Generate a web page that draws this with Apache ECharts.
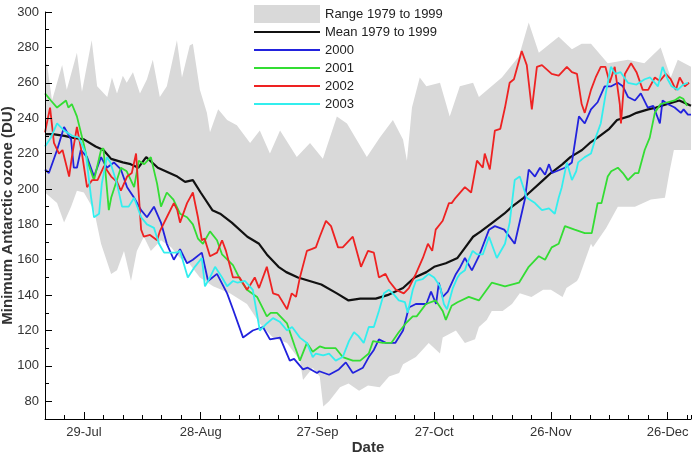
<!DOCTYPE html>
<html>
<head>
<meta charset="utf-8">
<script src="https://cdn.jsdelivr.net/npm/echarts@6/dist/echarts.min.js"></script>
<style>
  html, body { margin: 0; padding: 0; background: #fff; }
  #chart { width: 693px; height: 460px; }
</style>
</head>
<body>
<div id="chart"></div>
<script>
// x = days since 19-Jul, y = minimum ozone (DU)
const tickDays = [10, 40, 70, 100, 130, 160];
const tickLabels = ["29-Jul", "28-Aug", "27-Sep", "27-Oct", "26-Nov", "26-Dec"];
const yLabels = [80, 100, 120, 140, 160, 180, 200, 220, 240, 260, 280, 300];

const rangeMax = [[0,269],[0.5,271],[1.8,250],[4.4,270],[5.6,256],[8.2,277],[9.5,255],[12,284],[13.4,258],[16,252],[17.2,263],[18.5,254],[20,264],[21,260],[22.6,266],[24.4,254],[26.2,262],[27.7,273],[29.5,252],[31.3,258],[33.9,284],[35.2,263],[37.2,281],[38,282],[39.8,256],[41.6,243],[42.4,232],[44.5,245],[46.8,239],[49.3,236],[52.7,226],[55.2,233],[57.8,220],[60.4,233],[64.7,218],[68.1,226],[71.4,217],[75,241],[77.6,237],[82.7,218],[86,229],[89.4,239],[92,228],[93,216],[94.3,246],[96.3,263],[98,258],[101.5,260],[104,241],[106.6,258],[110,260],[111.5,252],[117.4,263],[121.8,275],[124.3,294],[126.9,277],[132,286],[135.4,279],[137.9,282],[140.3,282],[144.6,271],[149.8,273],[154,271],[158.2,280],[160.8,263],[162.6,273],[166,269]];
const rangeMin = [[0,198],[3.1,192],[4.9,181],[6.7,190],[8.2,199],[10,198],[12.6,188],[14.4,169],[17,152],[18.5,154],[20.3,165],[22.1,148],[23.6,165],[25.4,173],[27.2,165],[29.8,171],[32.4,167],[34.7,161],[37,158],[39.8,150],[43.2,145],[47.5,141],[51.9,135],[55.2,124],[58.6,116],[62.2,113],[65.5,103],[66.3,92],[68.8,99],[70.6,94],[71.5,77],[73,80],[75.8,88],[78,90],[80.7,86],[83,89],[86,88],[88.4,94],[91,96],[92,101],[95.3,105],[98.6,113],[101.5,107],[102.2,116],[105.6,120],[107.9,113],[110.5,115],[111.5,122],[113.5,126],[114.8,131],[117.6,131],[120,135],[122,141],[125,139],[128,143],[130,143],[133,139],[134,144],[136.7,148],[137.2,150],[140.3,169],[140.8,167],[144.2,178],[147.2,190],[151.6,190],[155.7,194],[159.3,195],[160.5,210],[161.6,222],[166,222]];
const mean = [[0,231],[2,231],[5,230],[7,229],[10,228],[13,224],[15,222],[17,217],[20,215],[22,214],[24,212],[26,218],[29,212],[32,209],[34,207],[36,204],[38,205],[40,198],[43,188],[45,186],[48,181],[52,173],[55,169],[57,163],[60,156],[62,153],[65,150],[68,148],[71,146],[75,141],[78,137],[81,138],[85,138],[88,140],[92,144],[95,150],[98,153],[100,156],[103,158],[106,161],[108,167],[110,173],[112,176],[115,181],[118,186],[120,190],[123,195],[125,199],[128,205],[130,209],[133,214],[135,218],[138,222],[140,226],[142,229],[145,234],[147,239],[150,241],[152,243],[155,245],[157,246],[160,248],[163,250],[166,247]];
const y2000 = [[0,211],[1,209],[3.1,222],[4.9,235],[6.7,228],[7.4,212],[8.2,212],[9.2,222],[10.8,218],[12.6,207],[14.4,218],[15.9,212],[17.7,215],[19.5,211],[21.1,201],[22.9,195],[24.7,188],[26.2,184],[28,190],[29.8,181],[31.3,169],[33.1,160],[34.7,166],[36.5,158],[38,160],[40.3,164],[41.9,148],[44.2,152],[46.8,141],[48.3,132],[50.9,116],[53.4,120],[56,122],[57.8,115],[60.4,116],[62.9,103],[64,104],[66.3,98],[67.5,99],[69.9,96],[70.5,97],[73,95],[75.5,98],[77.3,102],[79.1,96],[81.7,99],[83.2,105],[84.5,109],[85.8,115],[87.6,113],[90,113],[92,120],[93.5,133],[95.3,135],[98,135],[99.2,142],[100.5,135],[101.2,147],[102.2,139],[103.5,142],[105.6,152],[106.5,155],[107.9,161],[109.7,154],[111.5,162],[114.1,177],[115.6,179],[118,177],[120.7,169],[123.3,194],[124.3,211],[125.9,207],[127.2,212],[128.5,208],[129.5,214],[130.3,209],[133.6,212],[135.4,215],[137.2,241],[138.7,237],[140.3,245],[142,249],[143.8,258],[145.5,258],[147.2,260],[148.5,258],[149.8,252],[151.6,250],[153.1,254],[154.9,246],[156.3,247],[158,237],[158.7,250],[160,248],[161.8,246],[163.4,243],[164.1,245],[165.2,242],[166,242]];
const y2001 = [[0,254],[1.5,250],[3.1,246],[5.4,250],[6,246],[6.9,248],[8.2,241],[10,225],[11,215],[12.6,205],[14.4,222],[15,223],[16.4,188],[17,195],[19.5,212],[21,210],[22.9,201],[24.1,216],[25.5,214],[27.2,218],[28.8,203],[29.8,190],[31.3,198],[33,194],[34.7,186],[36.5,184],[38,180],[39.3,172],[40.6,169],[42.4,176],[44.2,171],[45.5,163],[48.3,157],[50.1,149],[51.9,143],[54.5,139],[57,128],[58,130],[59.6,130],[62.2,124],[64.2,111],[65.5,103],[67.3,113],[68.8,108],[70.6,111],[72,110],[74.7,110],[76.5,105],[79.1,103],[81,103],[83.2,107],[84.3,114],[86.8,113],[89,113],[90.9,119],[92.7,124],[94.5,128],[95.5,128],[97.9,135],[100.4,137],[102.2,131],[103,126],[104.5,134],[106,136],[108.9,139],[111.5,137],[114.8,147],[118.2,145],[121.8,147],[124.3,156],[126.9,162],[128.5,160],[130.2,167],[132,169],[133.6,179],[136.1,177],[138.7,175],[140.5,175],[141.3,184],[142,192],[143,192],[144.6,207],[145.5,210],[147.2,212],[148.5,209],[149.8,205],[151.6,209],[152.5,209],[154.1,222],[155.4,229],[156.7,243],[158.2,248],[160,249],[161.8,250],[163.1,252],[164,251],[165,247]];
const y2002 = [[0,232],[1.3,246],[2.3,226],[3.6,220],[4.5,222],[6.2,207],[6.9,218],[8.2,235],[9.5,220],[10.8,201],[12.1,205],[13.5,205],[15.2,213],[17,207],[18.5,204],[19.5,199],[21.1,207],[22.3,209],[23.4,220],[24.7,177],[25.4,173],[27,174],[28.8,171],[29.5,176],[31.3,184],[33.1,192],[34,188],[34.7,181],[36.5,192],[38,198],[39.3,184],[40.3,171],[41,172],[42.4,162],[44.2,164],[45.5,171],[46.5,165],[48.3,150],[50,150],[51.9,143],[52.8,146],[53.9,150],[55,144],[57,156],[58.6,141],[60,140],[62.2,132],[63.4,141],[64.5,139],[65.5,150],[67.3,165],[68.5,166],[69.6,167],[70.6,173],[72.2,182],[73.5,179],[75.3,167],[76.5,167],[79.1,173],[81.2,156],[83,165],[84.5,164],[85.8,150],[87.5,152],[88.4,148],[90.2,143],[92.2,141],[93.5,144],[95.3,152],[97.1,161],[98.4,169],[99.5,165],[100.4,177],[102.2,182],[103.8,192],[104.5,192],[105.5,195],[107.9,201],[109.5,198],[111,216],[112.5,212],[113,220],[114.3,211],[115.6,233],[117,234],[118.2,246],[119.4,260],[120.5,262],[122.5,278],[123.8,270],[125.1,245],[126.4,269],[127.7,270],[130.2,265],[132,264],[134.1,269],[135.4,266],[136.7,265],[137.9,248],[138.7,243],[140.3,256],[141.5,263],[142.8,269],[144,269],[145.1,260],[146.4,269],[147.7,248],[148,237],[149,265],[150.6,271],[152,266],[153.6,256],[155,256],[156.7,263],[158,261],[159.5,265],[160.8,262],[162.1,256],[163.1,263],[164.4,258],[165.5,260]];
const y2003 = [[0,224],[1.5,229],[3.1,237],[4.9,233],[7,230],[8.7,229],[10.5,220],[11.8,196],[12.6,184],[13.9,186],[14.6,203],[15.9,218],[16.8,215],[18.5,203],[19.8,190],[21.5,190],[22.9,195],[24.7,184],[26.2,180],[28,178],[29.3,169],[30.6,164],[32.5,164],[33.8,164],[34.7,165],[36.7,150],[38.5,156],[40.3,161],[41.1,145],[42.4,150],[43.7,156],[45.5,150],[46.8,145],[48.3,148],[49.5,147],[51.4,148],[53.4,143],[55.2,120],[57,124],[58.6,127],[60.3,125],[62.2,120],[63.5,122],[65.5,116],[67.3,113],[68.8,105],[69.6,107],[71.5,106],[73,107],[74.7,103],[76.5,105],[78.1,114],[79.4,119],[80.5,117],[81.9,113],[83.2,122],[84.5,122],[85.8,131],[87.1,141],[88.4,143],[89.8,140],[90.9,137],[92.5,136],[93.2,130],[94.5,143],[95.3,148],[97,149],[98.6,152],[100,150],[101.5,145],[102.5,135],[103.3,132],[104.8,144],[106,150],[106.6,152],[107.9,154],[108.5,158],[109.9,165],[111,163],[112.5,163],[114.1,173],[116.1,161],[118.2,169],[119.4,181],[120.7,205],[122,207],[123.8,195],[125.9,192],[127.7,188],[129.5,189],[131,186],[132,195],[132.8,201],[134.1,215],[135.4,205],[136.5,210],[137,215],[138.7,218],[140.3,220],[141.5,229],[142.8,237],[144.1,254],[145.4,269],[146.6,265],[147.9,266],[149.8,260],[152,259],[154.1,262],[155.5,263],[157.5,258],[158.7,269],[160,262],[161,258],[162.6,256],[164,259],[165.2,260]];

const font = "Liberation Sans, Arial, sans-serif";
const gray = "#d9d9d9";
const lineIcon = "path://M0,0H60V2H0Z";

const chart = echarts.init(document.getElementById("chart"), null, { renderer: "canvas" });

function line(name, data, color, width) {
  return {
    name: name,
    type: "line",
    data: data,
    symbol: "none",
    z: 2,
    itemStyle: { color: color },
    lineStyle: { color: color, width: width },
  };
}

const option = {
  animation: false,
  textStyle: { fontFamily: font },
  grid: { left: 45, right: 2, top: 12, bottom: 41, containLabel: false, outerBoundsMode: "none" },
  legend: {
    orient: "vertical",
    left: 254,
    top: 5,
    padding: 0,
    itemWidth: 66,
    itemHeight: 18,
    itemGap: 0,
    textStyle: { fontSize: 13, lineHeight: 18, color: "#222", fontFamily: font },
    data: [
      { name: "Range 1979 to 1999", icon: "rect" },
      { name: "Mean 1979 to 1999", icon: lineIcon },
      { name: "2000", icon: lineIcon },
      { name: "2001", icon: lineIcon },
      { name: "2002", icon: lineIcon },
      { name: "2003", icon: lineIcon },
    ],
  },
  xAxis: [
    {
      type: "value",
      min: 0,
      max: 166,
      interval: 5,
      z: 5,
      name: "Date",
      nameLocation: "middle",
      nameGap: 21,
      nameMoveOverlap: false,
      nameTextStyle: { fontWeight: "bold", fontSize: 15, color: "#333", fontFamily: font },
      axisLine: { show: true, lineStyle: { color: "#000", width: 1 } },
      axisTick: { show: true, inside: true, length: 4, lineStyle: { color: "#000" } },
      splitLine: { show: false },
      axisLabel: {
        margin: 7,
        color: "#333",
        fontSize: 13,
        formatter: v => {
          const i = tickDays.indexOf(v);
          return i >= 0 ? tickLabels[i] : "";
        },
      },
    },
    {
      type: "value",
      min: 0,
      max: 166,
      position: "bottom",
      z: 5,
      axisLine: { show: false },
      axisTick: { show: true, inside: true, length: 7, customValues: tickDays, lineStyle: { color: "#000" } },
      axisLabel: { show: false },
      splitLine: { show: false },
    },
  ],
  yAxis: [
    {
      type: "value",
      min: 70,
      max: 300,
      interval: 10,
      z: 5,
      name: "Minimum Antarctic ozone (DU)",
      nameLocation: "middle",
      nameGap: 30,
      nameMoveOverlap: false,
      nameTextStyle: { fontWeight: "bold", fontSize: 15, color: "#333", fontFamily: font },
      axisLine: { show: true, lineStyle: { color: "#000", width: 1 } },
      axisTick: { show: true, inside: true, length: 4, lineStyle: { color: "#000" } },
      splitLine: { show: false },
      axisLabel: {
        margin: 6,
        color: "#333",
        fontSize: 13,
        formatter: v => (yLabels.indexOf(v) >= 0 ? String(v) : ""),
      },
    },
    {
      type: "value",
      min: 70,
      max: 300,
      position: "left",
      z: 5,
      axisLine: { show: false },
      axisTick: { show: true, inside: true, length: 7, customValues: yLabels, lineStyle: { color: "#000" } },
      axisLabel: { show: false },
      splitLine: { show: false },
    },
  ],
  series: [
    {
      name: "Range 1979 to 1999",
      type: "line",
      data: rangeMax,
      symbol: "none",
      z: 1,
      itemStyle: { color: gray },
      lineStyle: { width: 0 },
      areaStyle: { color: gray, opacity: 1, origin: "start" },
    },
    {
      // white fill below the lower edge of the range
      name: "rangeLow",
      type: "line",
      data: rangeMin,
      symbol: "none",
      z: 1,
      itemStyle: { color: "#fff" },
      lineStyle: { width: 0 },
      areaStyle: { color: "#fff", opacity: 1, origin: "start" },
    },
    line("Mean 1979 to 1999", mean, "#111111", 2.2),
    line("2000", y2000, "#2222dd", 1.8),
    line("2001", y2001, "#33dd33", 1.8),
    line("2002", y2002, "#ee2222", 1.8),
    line("2003", y2003, "#33eeee", 1.8),
  ],
};

chart.setOption(option);
</script>
</body>
</html>
